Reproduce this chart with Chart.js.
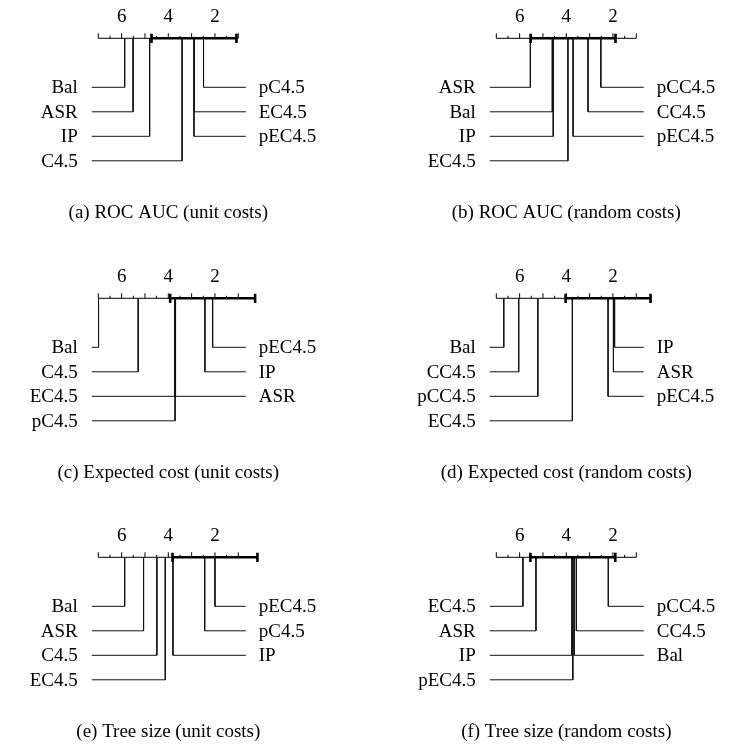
<!DOCTYPE html>
<html>
<head>
<meta charset="utf-8">
<script src="https://cdn.jsdelivr.net/npm/chart.js@4/dist/chart.umd.min.js"></script>
<style>
  body { margin: 0; background: #fff; }
  #wrap { position: relative; width: 745px; height: 747px; }
  canvas { position: absolute; }
</style>
</head>
<body>
<div id="wrap">
  <canvas id="pa" width="372" height="259" style="left:0;top:0"></canvas>
  <canvas id="pb" width="373" height="259" style="left:372px;top:0"></canvas>
  <canvas id="pc" width="372" height="259" style="left:0;top:260px"></canvas>
  <canvas id="pd" width="373" height="259" style="left:372px;top:260px"></canvas>
  <canvas id="pe" width="372" height="259" style="left:0;top:519px"></canvas>
  <canvas id="pf" width="373" height="259" style="left:372px;top:519px"></canvas>
</div>
<script>
// average ranks
var namesA = ['Bal', 'ASR', 'IP', 'C4.5', 'pC4.5', 'EC4.5', 'pEC4.5'];
var ranksA = [5.87, 5.51, 4.80, 3.41, 2.49, 2.88, 2.90];

var namesB = ['ASR', 'Bal', 'IP', 'EC4.5', 'pCC4.5', 'CC4.5', 'pEC4.5'];
var ranksB = [5.54, 4.60, 4.56, 3.93, 2.52, 3.07, 3.71];

var namesC = ['Bal', 'C4.5', 'EC4.5', 'pC4.5', 'pEC4.5', 'IP', 'ASR'];
var ranksC = [6.99, 5.29, 3.73, 3.71, 2.10, 2.43, 3.69];

var namesD = ['Bal', 'CC4.5', 'pCC4.5', 'EC4.5', 'IP', 'ASR', 'pEC4.5'];
var ranksD = [6.68, 6.04, 5.22, 3.74, 1.93, 1.98, 2.21];

var namesE = ['Bal', 'ASR', 'C4.5', 'EC4.5', 'pEC4.5', 'pC4.5', 'IP'];
var ranksE = [5.87, 5.06, 4.49, 4.13, 2.00, 2.44, 3.80];

var namesF = ['EC4.5', 'ASR', 'IP', 'pEC4.5', 'pCC4.5', 'CC4.5', 'Bal'];
var ranksF = [5.86, 5.30, 3.76, 3.72, 2.20, 3.57, 3.66];

var tickLabels = [6, 4, 2];
var criticalDiff = 1.82;
var controlName = 'pEC4.5';

var FONT = '19px "Liberation Serif", serif';

var cdPlugin = {
    id: 'cdAxis',
    beforeDatasetsDraw: function (chart) {
        var ctx = chart.ctx, x = chart.scales.x, y = chart.scales.y;
        var y0 = y.getPixelForValue(0);
        ctx.save();
        ctx.strokeStyle = '#000';
        ctx.lineWidth = 1;
        ctx.beginPath();
        ctx.moveTo(x.getPixelForValue(7), y0);
        ctx.lineTo(x.getPixelForValue(1), y0);
        for (var v = 1; v <= 7; v += 0.5) {
            var px = x.getPixelForValue(v);
            var len = (v % 1 === 0) ? 5 : 2.5;
            ctx.moveTo(px, y0);
            ctx.lineTo(px, y0 - len);
        }
        ctx.stroke();
        ctx.fillStyle = '#000';
        ctx.font = FONT;
        ctx.textAlign = 'center';
        ctx.textBaseline = 'alphabetic';
        tickLabels.forEach(function (t) {
            ctx.fillText(String(t), x.getPixelForValue(t), y0 - 16.5);
        });
        ctx.restore();
    },
    afterDatasetsDraw: function (chart, args, opts) {
        var ctx = chart.ctx, x = chart.scales.x, y = chart.scales.y;
        var y0 = y.getPixelForValue(0);
        ctx.save();
        // end caps of the critical difference bar
        ctx.strokeStyle = '#000';
        ctx.lineWidth = 2.6;
        ctx.beginPath();
        opts.cdEnds.forEach(function (v) {
            var px = x.getPixelForValue(v);
            ctx.moveTo(px, y0 - 4.6);
            ctx.lineTo(px, y0 + 4.6);
        });
        ctx.stroke();

        ctx.fillStyle = '#000';
        ctx.font = FONT;
        ctx.textBaseline = 'middle';
        opts.labels.forEach(function (l) {
            var py = y.getPixelForValue(l.row) + 1;
            if (l.side === 'left') {
                ctx.textAlign = 'right';
                ctx.fillText(l.name, x.getPixelForValue(l.end) - 14, py);
            } else {
                ctx.textAlign = 'left';
                ctx.fillText(l.name, x.getPixelForValue(l.end) + 13, py);
            }
        });
        ctx.textAlign = 'center';
        var cx = (x.getPixelForValue(7) + x.getPixelForValue(1)) / 2;
        ctx.fillText(opts.caption, cx, y0 + 175);
        ctx.restore();
    }
};

function buildPanel(id, names, ranks, caption, chartLeft) {
    var items = names.map(function (n, i) { return { name: n, rank: ranks[i] }; });
    items.sort(function (a, b) { return b.rank - a.rank; });
    var nLeft = Math.ceil(items.length / 2);
    var leftSide = items.slice(0, nLeft);
    var rightSide = items.slice(nLeft).reverse();

    var leftEnd = 7.28, rightEnd = 0.68;
    var labels = [];
    var datasets = [];

    var ctrl = ranks[names.indexOf(controlName)];
    var cdEnds = [ctrl + criticalDiff, ctrl - criticalDiff];
    datasets.push({
        data: [{ x: cdEnds[0], y: 0 }, { x: cdEnds[1], y: 0 }],
        borderColor: '#000',
        borderWidth: 2.6
    });

    leftSide.forEach(function (it, i) {
        var row = i + 2;
        datasets.push({ data: [{ x: it.rank, y: 0 }, { x: it.rank, y: row }, { x: leftEnd, y: row }] });
        labels.push({ name: it.name, row: row, end: leftEnd, side: 'left' });
    });
    rightSide.forEach(function (it, i) {
        var row = i + 2;
        datasets.push({ data: [{ x: it.rank, y: 0 }, { x: it.rank, y: row }, { x: rightEnd, y: row }] });
        labels.push({ name: it.name, row: row, end: rightEnd, side: 'right' });
    });

    var canvas = document.getElementById(id);
    var chartW = 140;
    return new Chart(canvas.getContext('2d'), {
        type: 'scatter',
        data: { datasets: datasets },
        options: {
            responsive: false,
            animation: false,
            devicePixelRatio: 1,
            events: [],
            layout: {
                padding: {
                    left: chartLeft,
                    right: canvas.width - chartLeft - chartW,
                    top: 38.3,
                    bottom: canvas.height - 38.3 - 5 * 24.5
                }
            },
            datasets: {
                scatter: {
                    showLine: true,
                    pointRadius: 0,
                    borderColor: '#111',
                    borderWidth: 1,
                    clip: false
                }
            },
            scales: {
                x: { type: 'linear', min: 1, max: 7, reverse: true, display: false },
                y: { type: 'linear', min: 0, max: 5, reverse: true, display: false }
            },
            plugins: {
                legend: { display: false },
                tooltip: { enabled: false },
                cdAxis: { labels: labels, caption: caption, cdEnds: cdEnds }
            }
        },
        plugins: [cdPlugin]
    });
}

buildPanel('pa', namesA, ranksA, '(a) ROC AUC (unit costs)', 98.3);
buildPanel('pb', namesB, ranksB, '(b) ROC AUC (random costs)', 124.3);
buildPanel('pc', namesC, ranksC, '(c) Expected cost (unit costs)', 98.3);
buildPanel('pd', namesD, ranksD, '(d) Expected cost (random costs)', 124.3);
buildPanel('pe', namesE, ranksE, '(e) Tree size (unit costs)', 98.3);
buildPanel('pf', namesF, ranksF, '(f) Tree size (random costs)', 124.3);
</script>
</body>
</html>
